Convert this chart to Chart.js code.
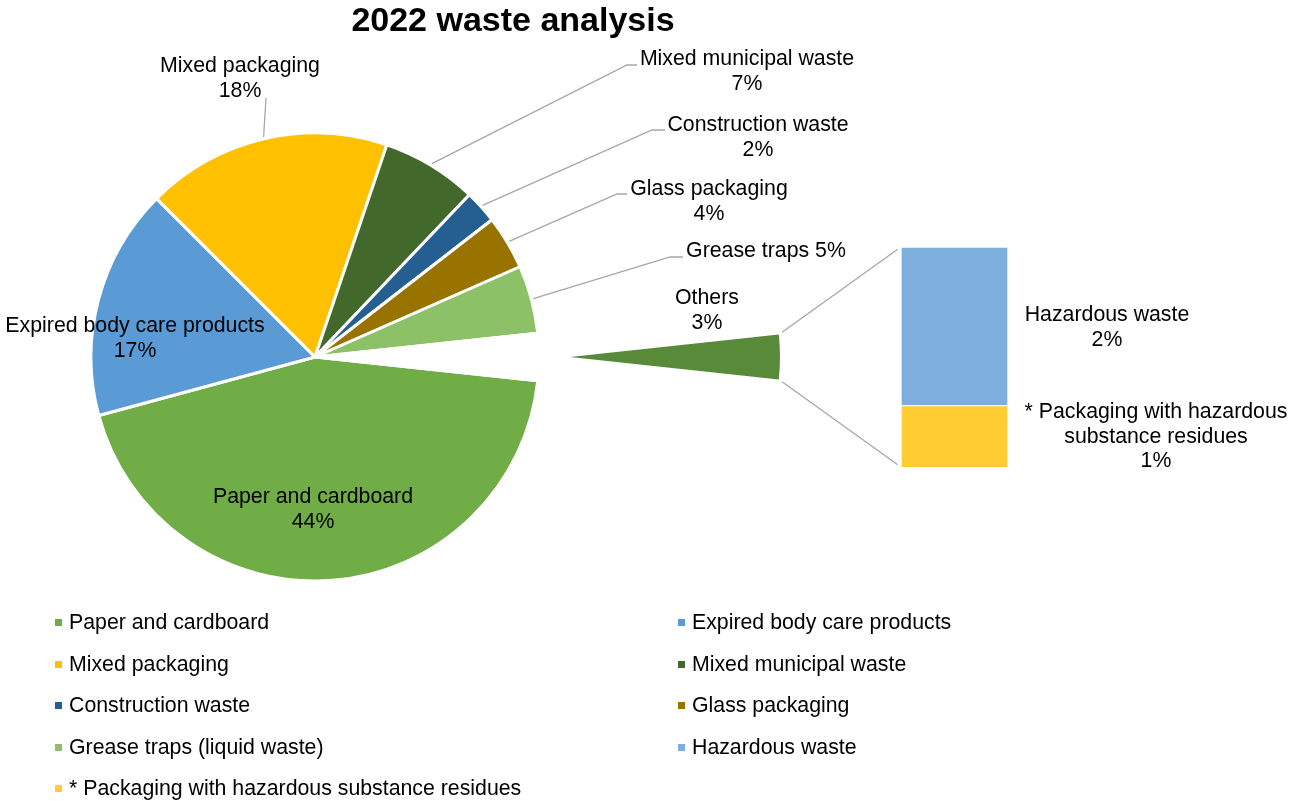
<!DOCTYPE html>
<html>
<head>
<meta charset="utf-8">
<title>2022 waste analysis</title>
<script src="https://cdn.jsdelivr.net/npm/chart.js@4.4.1/dist/chart.umd.min.js"></script>
<style>
    html, body { margin: 0; padding: 0; background: #fff; }
    #stage {
        position: relative;
        width: 1289px;
        height: 801px;
        overflow: hidden;
        font-family: "Liberation Sans", Arial, sans-serif;
        color: #000;
    }
    #stage canvas { position: absolute; left: 0; top: 0; }
    #title {
        position: absolute;
        left: 0;
        top: 2px;
        width: 1026px;
        text-align: center;
        font-weight: bold;
        font-size: 34px;
        line-height: 34px;
    }
    #legend {
        position: absolute;
        left: 55px;
        top: 612px;
        display: grid;
        grid-template-columns: 623px 420px;
        grid-auto-rows: 41.5px;
        font-size: 21.3px;
        line-height: 21px;
    }
    .legend-item { position: relative; padding-left: 14px; white-space: nowrap; }
    .legend-box { position: absolute; left: 0; top: 7px; width: 7px; height: 7px; }
</style>
</head>
<body>
<div id="stage">
    <canvas id="pie-chart" width="1289" height="801"></canvas>
    <canvas id="wedge-chart" width="1289" height="801"></canvas>
    <canvas id="bar-chart" width="1289" height="801"></canvas>
    <div id="title">2022 waste analysis</div>
    <div id="legend"></div>
</div>
<script>
(function() {
    'use strict';

    // Main pie: share of total waste, in percent
    const categories = [
        'Paper and cardboard',
        'Expired body care products',
        'Mixed packaging',
        'Mixed municipal waste',
        'Construction waste',
        'Glass packaging',
        'Grease traps (liquid waste)',
        'Others'
    ];
    const sliceLabels = [
        'Paper and cardboard',
        'Expired body care products',
        'Mixed packaging',
        'Mixed municipal waste',
        'Construction waste',
        'Glass packaging',
        'Grease traps',
        'Others'
    ];
    const pieShares = [44.1, 16.7, 17.7, 6.9, 2.4, 3.9, 4.9, 3.4];
    const pieColors = ['#70AD47', '#5B9BD5', '#FFC000', '#43682B', '#255E91', '#997300', '#8CC168', '#588A3A'];

    // Breakdown of "Others", top segment first
    const otherCategories = ['Hazardous waste', '* Packaging with hazardous substance residues'];
    const otherShares = [2.45, 0.95];
    const otherColors = ['#7CAFDD', '#FFCD33'];

    const OTHERS = categories.indexOf('Others');
    const FONT = '"Liberation Sans", Arial, sans-serif';
    const LINE_GAP = 24.5;
    const LEADER_COLOR = '#A6A6A6';

    Chart.defaults.font.family = FONT;

    // Start angle so that the "Others" slice is centred on 3 o'clock
    const total = pieShares.reduce((a, b) => a + b, 0);
    const rotation = 90 + (pieShares[OTHERS] / total) * 180;

    // Label anchors (centre x, first baseline) and leader line elbows
    const sliceLabelPos = [
        { x: 313, y: 503 },
        { x: 135, y: 332 },
        { x: 240, y: 72, leader: [[266, 98]] },
        { x: 747, y: 65, leader: [[637, 65], [627, 65]] },
        { x: 758, y: 131, leader: [[665, 130], [652, 130]] },
        { x: 709, y: 195, leader: [[627, 194], [617, 194]] },
        { x: 766, y: 257, oneLine: true, leader: [[683, 257], [670, 257]] },
        { x: 707, y: 304 }
    ];
    const otherLabelPos = [
        { x: 1107, y: 321 },
        { x: 1156, y: 418 }
    ];

    function formatPercent(value) {
        return Math.round(value) + '%';
    }

    function wrapText(ctx, text, maxWidth) {
        const words = text.split(' ');
        const lines = [];
        let line = '';
        words.forEach(word => {
            const test = line ? line + ' ' + word : word;
            if (line && ctx.measureText(test).width > maxWidth) {
                lines.push(line);
                line = word;
            } else {
                line = test;
            }
        });
        if (line) lines.push(line);
        return lines;
    }

    function drawLines(ctx, x, y, lines) {
        lines.forEach((line, i) => ctx.fillText(line, x, y + i * LINE_GAP));
    }

    function drawConnector(ctx, a, b, gap) {
        const dx = b[0] - a[0];
        const dy = b[1] - a[1];
        const len = Math.hypot(dx, dy);
        const ux = dx / len;
        const uy = dy / len;
        ctx.moveTo(a[0] + ux * gap, a[1] + uy * gap);
        ctx.lineTo(b[0] - ux * gap, b[1] - uy * gap);
    }

    // Exploded "Others" wedge, drawn from the same data with only that slice filled
    const wedgeChart = new Chart(document.getElementById('wedge-chart'), {
        type: 'pie',
        data: {
            labels: categories,
            datasets: [{
                data: pieShares,
                backgroundColor: pieColors.map((c, i) => i === OTHERS ? c : 'rgba(0,0,0,0)'),
                borderWidth: 0
            }]
        },
        options: {
            responsive: false,
            animation: false,
            events: [],
            rotation: rotation,
            radius: 210,
            layout: { padding: { left: 360, right: 509, top: 147, bottom: 234 } },
            plugins: { legend: { display: false }, tooltip: { enabled: false } }
        }
    });

    // Stacked bar for the breakdown of "Others" (first dataset sits at the bottom)
    const barChart = new Chart(document.getElementById('bar-chart'), {
        type: 'bar',
        data: {
            labels: ['Others'],
            datasets: otherCategories.map((name, i) => ({
                label: name,
                data: [otherShares[i]],
                backgroundColor: otherColors[i],
                borderColor: '#fff',
                borderWidth: 1,
                barThickness: 107
            })).reverse()
        },
        options: {
            responsive: false,
            animation: false,
            events: [],
            layout: { padding: { left: 880, right: 260, top: 247, bottom: 334 } },
            scales: {
                x: { display: false, stacked: true },
                y: { display: false, stacked: true, min: 0, max: otherShares.reduce((a, b) => a + b, 0) }
            },
            plugins: { legend: { display: false }, tooltip: { enabled: false } }
        }
    });

    // Data labels, leader lines and the lines joining the wedge to the bar
    const labelPlugin = {
        id: 'wasteLabels',
        afterDraw(chart) {
            const ctx = chart.ctx;
            const arcs = chart.getDatasetMeta(0).data;

            ctx.save();
            ctx.strokeStyle = LEADER_COLOR;
            ctx.lineWidth = 1.3;
            ctx.beginPath();
            sliceLabelPos.forEach((pos, i) => {
                if (!pos.leader) return;
                const arc = arcs[i].getProps(['x', 'y', 'startAngle', 'endAngle', 'outerRadius'], true);
                const mid = (arc.startAngle + arc.endAngle) / 2;
                const r = arc.outerRadius + 2;
                ctx.moveTo(pos.leader[0][0], pos.leader[0][1]);
                pos.leader.slice(1).forEach(p => ctx.lineTo(p[0], p[1]));
                ctx.lineTo(arc.x + Math.cos(mid) * r, arc.y + Math.sin(mid) * r);
            });

            const wedge = wedgeChart.getDatasetMeta(0).data[OTHERS]
                .getProps(['x', 'y', 'startAngle', 'endAngle', 'outerRadius'], true);
            const topBar = barChart.getDatasetMeta(1).data[0].getProps(['x', 'y', 'width'], true);
            const bottomBar = barChart.getDatasetMeta(0).data[0].getProps(['x', 'base', 'width'], true);
            const wedgeTop = [wedge.x + Math.cos(wedge.startAngle) * wedge.outerRadius,
                              wedge.y + Math.sin(wedge.startAngle) * wedge.outerRadius];
            const wedgeBottom = [wedge.x + Math.cos(wedge.endAngle) * wedge.outerRadius,
                                 wedge.y + Math.sin(wedge.endAngle) * wedge.outerRadius];
            drawConnector(ctx, wedgeTop, [topBar.x - topBar.width / 2, topBar.y], 4);
            drawConnector(ctx, wedgeBottom, [bottomBar.x - bottomBar.width / 2, bottomBar.base], 4);
            ctx.stroke();

            ctx.fillStyle = '#000';
            ctx.font = '21.3px ' + FONT;
            ctx.textAlign = 'center';
            ctx.textBaseline = 'alphabetic';

            sliceLabelPos.forEach((pos, i) => {
                const pct = formatPercent(pieShares[i] / total * 100);
                const lines = pos.oneLine ? [sliceLabels[i] + ' ' + pct] : [sliceLabels[i], pct];
                drawLines(ctx, pos.x, pos.y, lines);
            });

            otherLabelPos.forEach((pos, i) => {
                const lines = wrapText(ctx, otherCategories[i], 280);
                lines.push(formatPercent(otherShares[i]));
                drawLines(ctx, pos.x, pos.y, lines);
            });
            ctx.restore();
        }
    };

    new Chart(document.getElementById('pie-chart'), {
        type: 'pie',
        data: {
            labels: categories,
            datasets: [{
                data: pieShares,
                backgroundColor: pieColors.map((c, i) => i === OTHERS ? 'rgba(0,0,0,0)' : c),
                borderColor: '#fff',
                borderWidth: 3
            }]
        },
        options: {
            responsive: false,
            animation: false,
            events: [],
            rotation: rotation,
            radius: 224,
            layout: { padding: { left: 91, right: 750, top: 133, bottom: 220 } },
            plugins: { legend: { display: false }, tooltip: { enabled: false } }
        },
        plugins: [labelPlugin]
    });

    // Legend: every slice except the "Others" total, then its breakdown
    const legend = document.getElementById('legend');
    const legendNames = categories.filter((_, i) => i !== OTHERS).concat(otherCategories);
    const legendColors = pieColors.filter((_, i) => i !== OTHERS).concat(otherColors);
    legendNames.forEach((name, i) => {
        const item = document.createElement('div');
        item.className = 'legend-item';
        const box = document.createElement('span');
        box.className = 'legend-box';
        box.style.background = legendColors[i];
        item.appendChild(box);
        item.appendChild(document.createTextNode(name));
        legend.appendChild(item);
    });
})();
</script>
</body>
</html>
